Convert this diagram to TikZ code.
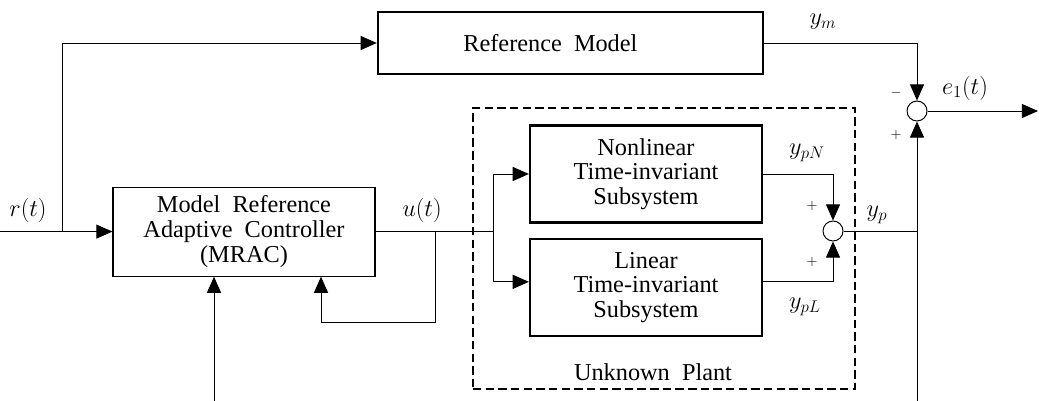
\documentclass[tikz,border=0pt]{standalone}
\usepackage{fontspec}
\setmainfont[WordSpace=2]{Liberation Serif}
\usepackage{tikz}
\usetikzlibrary{arrows.meta, positioning}
\tikzstyle{refblock} = [rectangle, minimum width=9.625cm, minimum height=1.55cm, draw=black, line width=1.6pt]
\tikzstyle{subsys} = [rectangle, minimum width=5.8cm, minimum height=2.42cm, align=center, draw=black, line width=1.6pt]
\tikzstyle{ctrl} = [rectangle, minimum width=6.55cm, minimum height=2.225cm, align=center, draw=black, line width=0.8pt]
\tikzstyle{plant} = [rectangle, minimum width=9.55cm, minimum height=7.025cm, draw=black, line width=1.5pt, dash pattern=on 6pt off 3pt]
\tikzstyle{sum} = [circle, minimum size=0.5cm, inner sep=0pt, draw=black, line width=0.7pt]
\tikzstyle{sign} = [font=\fontsize{10}{12}\selectfont, inner sep=0pt]
\tikzstyle{wire} = [line width=0.7pt]
\tikzstyle{arrow} = [line width=0.7pt, -{Triangle[length=11.5pt, width=10pt]}]

\begin{document}
\begin{tikzpicture}[font=\fontsize{17.28}{17.5}\selectfont]
\useasboundingbox (0,0) rectangle (25.975,-10.025);
\node (plant) [plant] at (16.6,-6.2125) {};
\node (ref) [refblock] at (14.26,-1.075) {Reference Model\hspace{1cm}\mbox{}};
\node (mrac) [ctrl] at (6.1,-5.79) {Model Reference\\Adaptive Controller\\(MRAC)};
\node (nonlin) [subsys] at (16.15,-4.35) {Nonlinear\\Time-invariant\\Subsystem};
\node (lin) [subsys, below=0.36cm of nonlin] {Linear\\Time-invariant\\Subsystem};
\node (sum2) [sum] at (20.825,-5.775) {};
\node (sum1) [sum] at (22.925,-2.775) {};
\coordinate (rin) at (0,-5.79);
\coordinate (rsplit) at (1.55,-5.79);
\coordinate (usplit) at (12.325,-5.79);
\coordinate (fbtap) at (10.875,-5.79);
\coordinate (fbturn) at (10.875,-8.05);
\coordinate (adapt) at (5.35,-10.1);
\coordinate (ypout) at (22.925,-5.775);
\coordinate (ypdown) at (22.925,-10.1);
\coordinate (eout) at (25.95,-2.775);
% signal labels
\node (rlbl) at (0.7,-5.25) {$r(t)$};
\node (ulbl) at (10.55,-5.25) {$u(t)$};
\node (ymlbl) at (20.575,-0.55) {$y_m$};
\node (elbl) at (24.125,-2.2) {$e_1(t)$};
\node (ypnlbl) at (20.175,-3.825) {$y_{pN}$};
\node (yplbl) at (21.925,-5.375) {$y_p$};
\node (ypllbl) at (20.125,-7.675) {$y_{pL}$};
\node (plantlbl) at (16.325,-9.3) {Unknown Plant};
\node (minus) [sign] at (22.4,-2.325) {$-$};
\node (plus1) [sign] at (22.4,-3.375) {$+$};
\node (plus2) [sign] at (20.3,-5.15) {$+$};
\node (plus3) [sign] at (20.3,-6.55) {$+$};
% connections
\draw [wire] (rin) -- (rsplit);
\draw [arrow] (rsplit) -- (mrac.west);
\draw [arrow] (rsplit) |- (ref.west);
\draw [wire] (mrac.east) -- (usplit);
\draw [arrow] (usplit) |- (nonlin.west);
\draw [arrow] (usplit) |- ([yshift=0.14cm]lin.west);
\draw [arrow] (fbtap) -- (fbturn) -| ([xshift=1.925cm]mrac.south);
\draw [arrow] (adapt) -- (adapt |- mrac.south);
\draw [arrow] (nonlin.east) -| (sum2.north);
\draw [arrow] ([yshift=0.14cm]lin.east) -| (sum2.south);
\draw [arrow] (ref.east) -| (sum1.north);
\draw [wire] (sum2.east) -- (ypout);
\draw [arrow] (ypdown) -- (sum1.south);
\draw [arrow] (sum1.east) -- (eout);
\end{tikzpicture}
\end{document}
